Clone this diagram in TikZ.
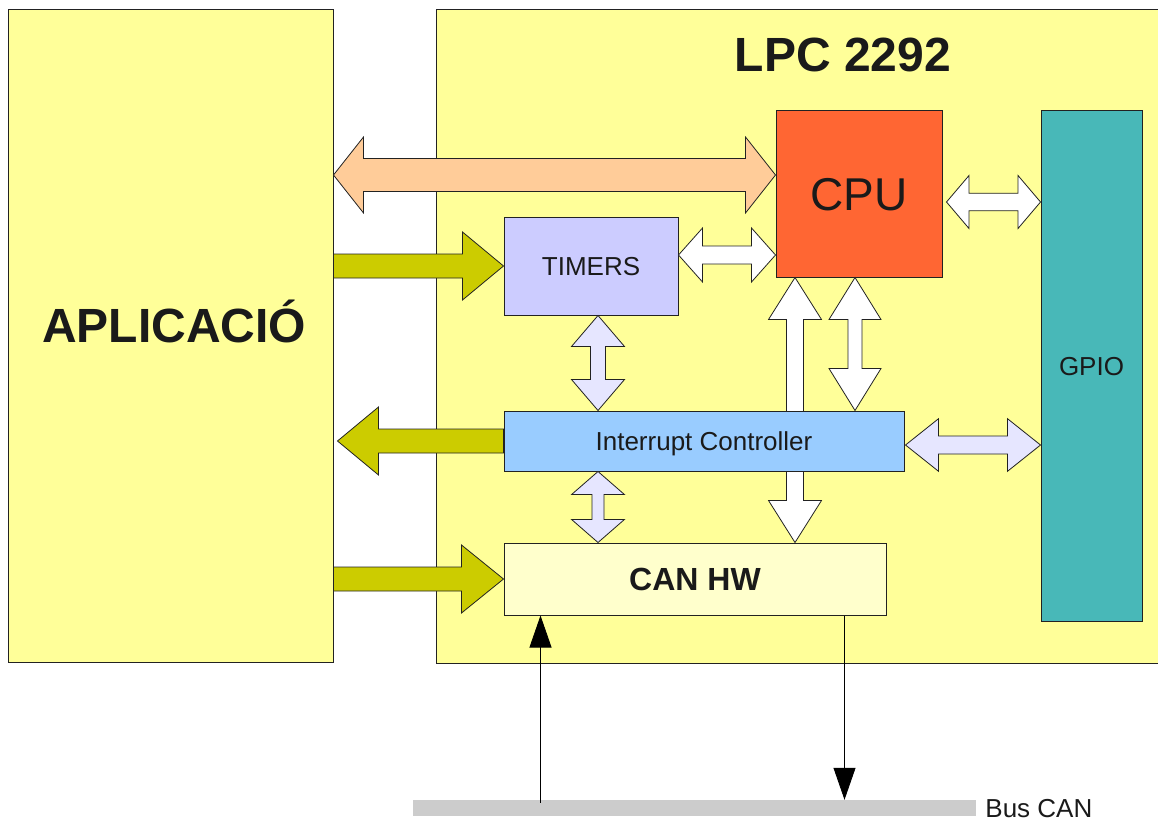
\documentclass[tikz,border=0pt]{standalone}
\usepackage{fontspec}
\setmainfont{Liberation Sans}
\usepackage{xcolor}
\usetikzlibrary{arrows.meta,positioning,calc}

\definecolor{boxyellow}{HTML}{FFFF99}
\definecolor{canyellow}{HTML}{FFFFCC}
\definecolor{cpured}{HTML}{FF6633}
\definecolor{gpioteal}{HTML}{48B8B8}
\definecolor{timerblue}{HTML}{CCCCFF}
\definecolor{irqblue}{HTML}{99CCFF}
\definecolor{buspeach}{HTML}{FFCC99}
\definecolor{olive}{HTML}{CCCC00}
\definecolor{lavender}{HTML}{E6E6FF}
\definecolor{busgray}{HTML}{CCCCCC}
\definecolor{linegray}{HTML}{222222}
\definecolor{textgray}{HTML}{1A1A1A}

\newcommand{\pxfont}[1]{\fontsize{#1}{#1}\selectfont}
% block arrows: style, from, to, half shaft, half head, head length
\newcommand{\hdouble}[6]{%
  \path[#1] let \p1=(#2), \p2=(#3) in
    (\x1,\y1) -- (\x1+#6,\y1+#5) -- (\x1+#6,\y1+#4) -- (\x2-#6,\y1+#4)
    -- (\x2-#6,\y1+#5) -- (\x2,\y1) -- (\x2-#6,\y1-#5) -- (\x2-#6,\y1-#4)
    -- (\x1+#6,\y1-#4) -- (\x1+#6,\y1-#5) -- cycle;}
\newcommand{\vdouble}[6]{%
  \path[#1] let \p1=(#2), \p2=(#3) in
    (\x1,\y1) -- (\x1+#5,\y1-#6) -- (\x1+#4,\y1-#6) -- (\x1+#4,\y2+#6)
    -- (\x1+#5,\y2+#6) -- (\x1,\y2) -- (\x1-#5,\y2+#6) -- (\x1-#4,\y2+#6)
    -- (\x1-#4,\y1-#6) -- (\x1-#5,\y1-#6) -- cycle;}
\newcommand{\hsingle}[6]{%
  \path[#1] let \p1=(#2), \p2=(#3), \n1={sign(\x2-\x1)} in
    (\x1,\y1+#4) -- ({\x2-(\n1)*#6},{\y1+#4}) -- ({\x2-(\n1)*#6},{\y1+#5}) -- (\x2,\y1)
    -- ({\x2-(\n1)*#6},{\y1-#5}) -- ({\x2-(\n1)*#6},{\y1-#4}) -- (\x1,\y1-#4) -- cycle;}

\begin{document}
\begin{tikzpicture}[
  x=1pt,y=-1pt,
  box/.style={draw=linegray,line width=1pt,inner sep=0pt,text depth=0pt,
              text=textgray},
  blockarr/.style={draw=linegray,line width=0.8pt},
  sig/.style={-{Triangle[length=32pt,width=22pt]},line width=0.8pt}
]
\useasboundingbox (0,0) rectangle (1158,821);
\clip (0,0) rectangle (1158,821);
% outer blocks
\node[box,fill=boxyellow,minimum width=724pt,minimum height=653pt] (lpc) at (798,336.5) {};
\node[box,fill=boxyellow,minimum width=325pt,minimum height=652pt] (apl) at (170.5,336) {};
\node[anchor=base,font=\bfseries\pxfont{48},text=textgray] (lpctitle) at (843,72) {LPC 2292};
\node[anchor=base,font=\bfseries\pxfont{48},text=textgray] (apltitle) at (174,342) {APLICACIÓ};
% inner blocks
\node[box,fill=cpured,minimum size=166pt,font=\pxfont{46}] (cpu) at (859,194) {CPU};
\node[box,fill=gpioteal,minimum width=101pt,minimum height=510pt,font=\pxfont{26}] (gpio) at (1091.5,366) {GPIO};
\node[box,fill=timerblue,minimum width=174pt,minimum height=98pt,font=\pxfont{26}] (timers) at (591,266) {TIMERS};
\node[box,fill=canyellow,minimum width=382pt,minimum height=72pt,font=\bfseries\pxfont{32},
      below=227pt of timers.south west,anchor=north west] (canhw) {CAN HW};
% passes behind the interrupt controller
\vdouble{blockarr,fill=white}{[xshift=-64pt]cpu.south}{canhw.north}{8.5pt}{26.5pt}{42pt}
\node[box,fill=irqblue,minimum width=400pt,minimum height=60pt,font=\pxfont{26},
      below=95pt of timers.south west,anchor=north west] (ic) {Interrupt Controller};
% bus
\node[fill=busgray,minimum width=563pt,minimum height=16pt,inner sep=0pt] (bus) at (694.5,808) {};
\node[right=9pt of bus,inner sep=0pt,text depth=0pt,font=\pxfont{26},text=textgray] (buslabel) {Bus CAN};

\coordinate (cpuleft) at ([yshift=19pt]cpu.west);
\hdouble{blockarr,fill=buspeach}{apl.east |- cpuleft}{cpu.west}{16.5pt}{38pt}{30pt}
\hdouble{blockarr,fill=white}{[yshift=11pt]timers.east}{cpu.west}{9pt}{27pt}{24pt}
\hdouble{blockarr,fill=white}{[xshift=4pt,yshift=-8pt]cpu.east}{gpio.west}{8.7pt}{26.5pt}{22.5pt}
\hdouble{blockarr,fill=lavender}{[xshift=1pt,yshift=-4pt]ic.east}{gpio.west}{9pt}{26.3pt}{33pt}
\vdouble{blockarr,fill=white}{[xshift=-4pt]cpu.south}{ic.north}{7pt}{26pt}{42pt}
\vdouble{blockarr,fill=lavender}{[xshift=7pt]timers.south}{ic.north}{7.5pt}{26.5pt}{31pt}
\vdouble{blockarr,fill=lavender}{[xshift=-106pt]ic.south}{canhw.north}{6pt}{26.4pt}{23pt}
\hsingle{blockarr,fill=olive}{apl.east |- timers.west}{timers.west}{12pt}{34pt}{41pt}
\hsingle{blockarr,fill=olive}{ic.west}{[xshift=4pt]apl.east}{12pt}{34pt}{41pt}
\hsingle{blockarr,fill=olive}{apl.east |- canhw.west}{canhw.west}{12pt}{34pt}{42pt}

\draw[sig] ($(bus.north -| canhw.south west)+(37pt,-3pt)$) -- ($(canhw.south west)+(37pt,0pt)$);
\draw[sig] ($(canhw.south east)+(-42pt,0pt)$) -- ($(bus.north -| canhw.south east)+(-42pt,0pt)$);
\end{tikzpicture}
\end{document}
